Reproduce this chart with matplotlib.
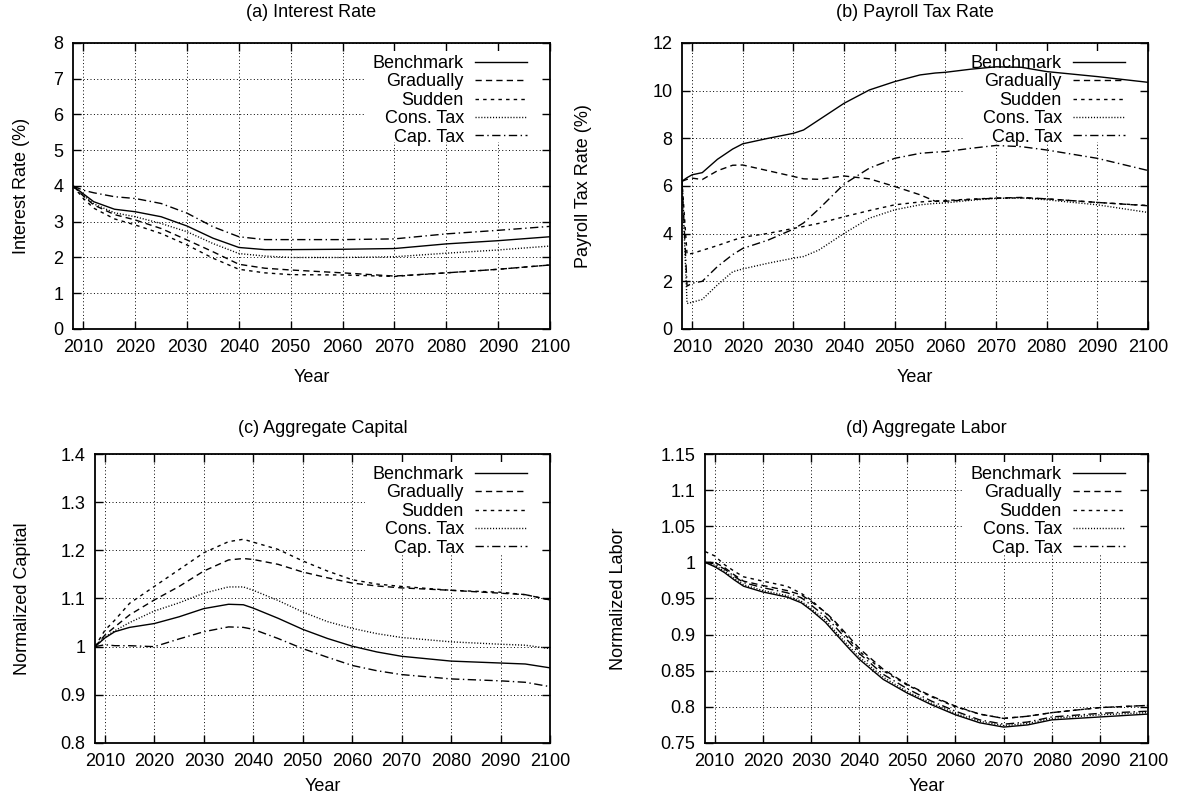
import matplotlib
matplotlib.use("Agg")
import matplotlib.pyplot as plt
from matplotlib.patches import Rectangle
from matplotlib.transforms import ScaledTranslation

plt.rcParams['font.family'] = ['Liberation Sans', 'DejaVu Sans']
plt.rcParams['font.size'] = 13

names = ["Benchmark", "Gradually", "Sudden", "Cons. Tax", "Cap. Tax"]

# (a) interest rate, percent
years_a = [2008, 2010, 2012, 2016, 2020, 2025, 2030, 2035, 2040, 2045, 2050, 2060, 2070, 2080, 2090, 2100]
rate_bench = [4.0, 3.78, 3.56, 3.35, 3.28, 3.14, 2.88, 2.54, 2.28, 2.22, 2.22, 2.23, 2.25, 2.38, 2.47, 2.58]
rate_grad = [4.0, 3.72, 3.47, 3.20, 3.05, 2.81, 2.49, 2.16, 1.81, 1.70, 1.65, 1.57, 1.48, 1.57, 1.67, 1.79]
rate_sudden = [4.0, 3.65, 3.38, 3.08, 2.91, 2.67, 2.35, 1.98, 1.67, 1.57, 1.52, 1.51, 1.47, 1.57, 1.67, 1.79]
rate_cons = [4.0, 3.74, 3.50, 3.25, 3.14, 2.95, 2.72, 2.39, 2.11, 2.04, 2.00, 2.00, 2.02, 2.12, 2.21, 2.32]
rate_cap = [4.0, 3.88, 3.81, 3.70, 3.65, 3.51, 3.24, 2.86, 2.58, 2.50, 2.50, 2.50, 2.52, 2.66, 2.76, 2.87]

# (b) payroll tax rate, percent
years_b = [2008, 2009, 2010, 2012, 2015, 2018, 2020, 2025, 2030, 2032, 2035, 2040, 2045, 2050,
           2055, 2058, 2060, 2065, 2070, 2075, 2080, 2090, 2100]
tax_bench = [6.2, 6.35, 6.47, 6.56, 7.12, 7.55, 7.77, 8.0, 8.21, 8.35, 8.77, 9.47, 10.03, 10.38,
             10.66, 10.74, 10.77, 10.9, 11.0, 10.98, 10.8, 10.59, 10.35]
tax_grad = [6.2, 6.28, 6.33, 6.27, 6.64, 6.87, 6.88, 6.64, 6.40, 6.30, 6.28, 6.42, 6.30, 5.98,
            5.63, 5.36, 5.36, 5.43, 5.49, 5.52, 5.46, 5.31, 5.17]
tax_sudden = [6.2, 3.13, 3.17, 3.30, 3.50, 3.72, 3.85, 4.01, 4.22, 4.30, 4.43, 4.71, 4.97, 5.21,
              5.33, 5.37, 5.39, 5.45, 5.49, 5.50, 5.46, 5.31, 5.18]
tax_cons = [6.2, 1.07, 1.12, 1.24, 1.85, 2.40, 2.52, 2.76, 2.97, 3.04, 3.31, 4.01, 4.65, 5.0,
            5.21, 5.27, 5.29, 5.40, 5.48, 5.50, 5.42, 5.21, 4.89]
tax_cap = [6.2, 1.80, 1.92, 2.00, 2.62, 3.12, 3.38, 3.73, 4.19, 4.45, 5.03, 6.08, 6.75, 7.16,
           7.37, 7.42, 7.44, 7.58, 7.70, 7.65, 7.51, 7.16, 6.65]

# (c) aggregate capital, normalized
years_c = [2008, 2010, 2012, 2015, 2020, 2025, 2030, 2035, 2038, 2040, 2045, 2050, 2055, 2060,
           2065, 2070, 2080, 2090, 2095, 2100]
cap_bench = [1.0, 1.018, 1.031, 1.040, 1.048, 1.062, 1.079, 1.088, 1.087, 1.080, 1.059, 1.036, 1.017, 1.001,
             0.989, 0.980, 0.970, 0.966, 0.964, 0.956]
cap_grad = [1.0, 1.024, 1.041, 1.066, 1.097, 1.125, 1.157, 1.180, 1.183, 1.181, 1.171, 1.155, 1.143, 1.132,
            1.126, 1.122, 1.117, 1.111, 1.108, 1.097]
cap_sudden = [1.0, 1.034, 1.055, 1.090, 1.125, 1.160, 1.195, 1.218, 1.223, 1.217, 1.202, 1.178, 1.157, 1.139,
              1.130, 1.125, 1.117, 1.113, 1.108, 1.097]
cap_cons = [1.0, 1.020, 1.033, 1.050, 1.074, 1.091, 1.111, 1.124, 1.124, 1.117, 1.096, 1.072, 1.052, 1.038,
            1.027, 1.019, 1.010, 1.005, 1.003, 0.996]
cap_cap = [1.0, 1.004, 1.002, 1.002, 1.000, 1.016, 1.031, 1.041, 1.040, 1.036, 1.017, 0.996, 0.978, 0.961,
           0.950, 0.942, 0.933, 0.929, 0.926, 0.917]

# (d) aggregate labor, normalized
years_d = [2008, 2010, 2012, 2014, 2016, 2020, 2025, 2028, 2030, 2033, 2035, 2038, 2040, 2045,
           2050, 2055, 2060, 2065, 2070, 2075, 2080, 2090, 2100]
lab_bench = [1.0, 0.994, 0.986, 0.976, 0.967, 0.959, 0.952, 0.944, 0.934, 0.917, 0.902, 0.880, 0.866, 0.838,
             0.819, 0.803, 0.789, 0.778, 0.772, 0.775, 0.782, 0.786, 0.790]
lab_grad = [1.0, 1.000, 0.993, 0.983, 0.974, 0.968, 0.961, 0.955, 0.946, 0.931, 0.918, 0.896, 0.881, 0.852,
            0.831, 0.815, 0.801, 0.790, 0.784, 0.787, 0.792, 0.799, 0.802]
lab_sudden = [1.015, 1.009, 0.997, 0.988, 0.980, 0.974, 0.967, 0.957, 0.948, 0.930, 0.916, 0.893, 0.877, 0.850,
              0.830, 0.814, 0.800, 0.790, 0.784, 0.787, 0.792, 0.799, 0.802]
lab_cons = [1.0, 0.996, 0.988, 0.978, 0.969, 0.961, 0.954, 0.946, 0.936, 0.920, 0.905, 0.883, 0.869, 0.841,
            0.821, 0.805, 0.791, 0.780, 0.774, 0.777, 0.784, 0.789, 0.792]
lab_cap = [1.0, 0.998, 0.991, 0.981, 0.972, 0.965, 0.958, 0.951, 0.941, 0.925, 0.911, 0.889, 0.874, 0.845,
           0.825, 0.808, 0.794, 0.782, 0.776, 0.779, 0.786, 0.791, 0.794]

xticks = list(range(2010, 2101, 10))
yticks_a = [0, 1, 2, 3, 4, 5, 6, 7, 8]
yticks_b = [0, 2, 4, 6, 8, 10, 12]
yticks_c = ["0.8", "0.9", "1", "1.1", "1.2", "1.3", "1.4"]
yticks_d = ["0.75", "0.8", "0.85", "0.9", "0.95", "1", "1.05", "1.1", "1.15"]

# gnuplot-ish line types
styles = ['-', (0, (4.5, 3)), (0, (2.5, 3)), (0, (0.8, 1.3)), (0, (6, 2.5, 1, 2.5))]

FIG_W, FIG_H = 1183, 802


def panel(rect, years, series, yticks, title, ylabel, title_y, ylab_x, xlab_y):
    ax = fig.add_axes(rect)
    ax.set_axisbelow(True)
    for s, name, ls in zip(series, names, styles):
        ax.plot(years, s, color='black', linestyle=ls, linewidth=1.0, label=name)
    yvals = [float(t) for t in yticks]
    ax.set_xlim(2008, 2100)
    ax.set_ylim(yvals[0], yvals[-1])
    ax.set_xticks(xticks)
    ax.set_yticks(yvals)
    ax.set_yticklabels([str(t) for t in yticks])
    ax.tick_params(direction='in', top=True, right=True, length=6, width=1, pad=7)
    ax.grid(True, color='black', linestyle=(0, (1, 2.5)), linewidth=0.7)
    for sp in ax.spines.values():
        sp.set_linewidth(1.3)
    ax.text(0.5, title_y, title, transform=ax.transAxes, ha='center', va='center', fontsize=13)
    ax.set_xlabel("Year", va='center')
    ax.xaxis.set_label_coords(0.5, xlab_y)
    ax.set_ylabel(ylabel, va='center')
    ax.yaxis.set_label_coords(ylab_x, 0.5)

    # opaque key box: hides the grid but leaves the border ticks showing
    ax_w = rect[2] * FIG_W
    ax_h = rect[3] * FIG_H
    ax.add_patch(Rectangle((1 - 185 / ax_w, 1 - 99 / ax_h), 177 / ax_w, 91 / ax_h,
                           transform=ax.transAxes, facecolor='white', edgecolor='none', zorder=1))

    leg = ax.legend(loc='upper right', bbox_to_anchor=(1, 1),
                    bbox_transform=ax.transAxes + ScaledTranslation(-23 / fig.dpi, -12 / fig.dpi, fig.dpi_scale_trans),
                    frameon=False, markerfirst=False, handlelength=2.9, handletextpad=0.6,
                    labelspacing=0.08, borderpad=0, borderaxespad=0, fontsize=13)
    leg.set_zorder(3)
    return ax


fig = plt.figure(figsize=(FIG_W / 100, FIG_H / 100), dpi=100)

panel([0.0617, 0.5898, 0.4032, 0.3566], years_a,
      [rate_bench, rate_grad, rate_sudden, rate_cons, rate_cap],
      yticks_a, "(a) Interest Rate", "Interest Rate (%)", 1.105, -0.107, -0.168)
panel([0.5765, 0.5898, 0.3939, 0.3566], years_b,
      [tax_bench, tax_grad, tax_sudden, tax_cons, tax_cap],
      yticks_b, "(b) Payroll Tax Rate", "Payroll Tax Rate (%)", 1.105, -0.212, -0.168)
panel([0.0803, 0.0736, 0.3846, 0.3603], years_c,
      [cap_bench, cap_grad, cap_sudden, cap_cons, cap_cap],
      yticks_c, "(c) Aggregate Capital", "Normalized Capital", 1.087, -0.160, -0.152)
panel([0.5960, 0.0736, 0.3745, 0.3603], years_d,
      [lab_bench, lab_grad, lab_sudden, lab_cons, lab_cap],
      yticks_d, "(d) Aggregate Labor", "Normalized Labor", 1.087, -0.196, -0.152)

fig.savefig("out.png", dpi=100)
